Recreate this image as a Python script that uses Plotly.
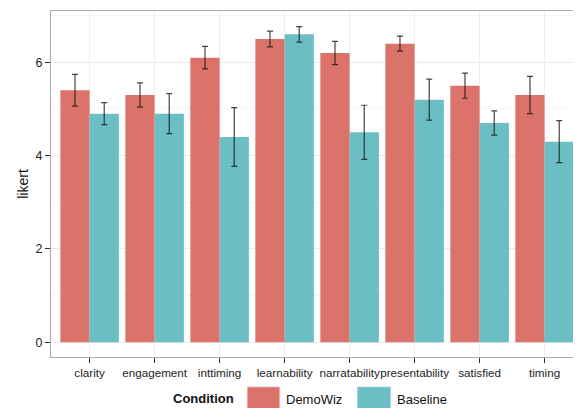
import plotly.graph_objects as go

categories = ["clarity", "engagement", "inttiming", "learnability",
              "narratability", "presentability", "satisfied", "timing"]
demowiz = [5.4, 5.3, 6.1, 6.5, 6.2, 6.4, 5.5, 5.3]
demowiz_err = [0.34, 0.26, 0.24, 0.17, 0.25, 0.16, 0.27, 0.40]
baseline = [4.9, 4.9, 4.4, 6.6, 4.5, 5.2, 4.7, 4.3]
baseline_err = [0.235, 0.43, 0.63, 0.165, 0.58, 0.44, 0.26, 0.45]
y_ticks = [0, 2, 4, 6]

RED = "#DB736B"
TEAL = "#6BBEC4"
FONT = "Liberation Sans, Arial, Helvetica, sans-serif"

# The page body adds an 8px offset; margins compensate for it.
OFF = 8
PLOT_W = 581 - 43

fig = go.Figure()
fig.add_trace(go.Bar(
    x=categories, y=demowiz, name="DemoWiz", marker_color=RED,
    marker_line=dict(width=0),
    error_y=dict(type="data", array=demowiz_err, color="rgba(20,20,20,0.8)",
                 thickness=1.2, width=3),
))
fig.add_trace(go.Bar(
    x=categories, y=baseline, name="Baseline", marker_color=TEAL,
    marker_line=dict(width=0),
    error_y=dict(type="data", array=baseline_err, color="rgba(20,20,20,0.8)",
                 thickness=1.2, width=3),
))

fig.update_layout(
    width=581, height=408,
    margin=dict(l=43, r=0, t=3, b=58.7, autoexpand=False),
    barmode="group", bargap=0.1, bargroupgap=0,
    plot_bgcolor="white", paper_bgcolor="white",
    showlegend=False,
    font=dict(family=FONT, color="#222", size=12),
)
fig.update_xaxes(
    range=[-0.594, 7.683], showgrid=True, gridcolor="#EEEEEE", gridwidth=1,
    showline=True, mirror=True, linecolor="#AAAAAA", linewidth=1,
    ticks="outside", ticklen=5, tickcolor="#333", tickwidth=1,
    tickangle=0, automargin=False,
    tickfont=dict(size=11.7, color="#222"),
)
fig.update_yaxes(
    range=[-0.315, 7.1], tickvals=y_ticks, showgrid=True, gridcolor="#EBEBEB",
    minor=dict(dtick=1, tick0=0, showgrid=True, gridcolor="#F6F6F6"),
    zeroline=False, automargin=False,
    showline=True, mirror=True, linecolor="#AAAAAA", linewidth=1,
    ticks="outside", ticklen=5, tickcolor="#333", tickwidth=1,
    tickfont=dict(size=12.5, color="#222"),
    title=dict(text="likert", font=dict(size=14, color="#111"), standoff=3),
)

# Legend drawn at the bottom (paper coordinates; args are reference pixels)
def px_x(p):
    return (p - OFF - 43) / PLOT_W

def px_y(p):
    return (357.3 - p) / 346.3

fig.add_annotation(x=px_x(236), y=px_y(399), xref="paper", yref="paper",
                   text="<b>Condition</b>", showarrow=False, xanchor="right",
                   yanchor="middle", font=dict(size=13, color="#111"))
for x0, x1, col, lx, label in [(247, 280, RED, 284, "DemoWiz"),
                               (357, 391, TEAL, 395, "Baseline")]:
    fig.add_shape(type="rect", xref="paper", yref="paper",
                  x0=px_x(x0), x1=px_x(x1), y0=px_y(387), y1=px_y(414),
                  fillcolor=col, line=dict(color="#EEEEEE", width=1))
    fig.add_annotation(x=px_x(lx), y=px_y(400), xref="paper", yref="paper",
                       text=label, showarrow=False, xanchor="left",
                       yanchor="middle", font=dict(size=13, color="#111"))

fig.write_html("out.html")
